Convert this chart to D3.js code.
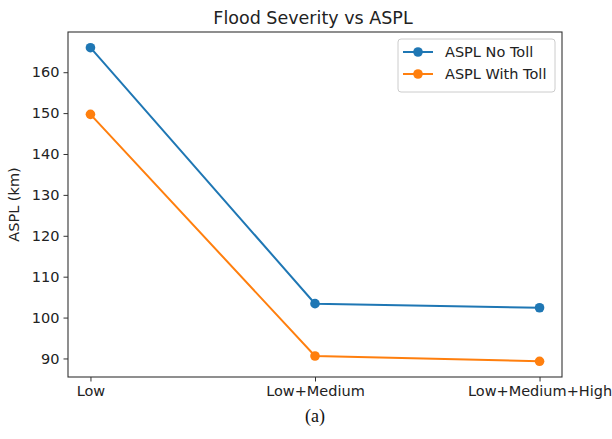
<!DOCTYPE html>
<html><head><meta charset="utf-8">
<script src="https://cdn.jsdelivr.net/npm/d3@7"></script>
<style>
body{margin:0;background:#fff;}
svg{display:block;}
</style></head>
<body><svg id="chart" width="612" height="439"></svg>
<script>
const categories = ["Low", "Low+Medium", "Low+Medium+High"];
const noToll = [166.0, 103.4, 102.4];
const withToll = [149.7, 90.6, 89.3];
const yTicks = [90, 100, 110, 120, 130, 140, 150, 160];
const seriesNames = ["ASPL No Toll", "ASPL With Toll"];
const colors = ["#1f77b4", "#ff7f0e"];

const FONT = "DejaVu Sans, sans-serif";
const FS = 14.5;
const svg = d3.select("#chart");
const L = 68, R = 562, T = 32, B = 377;

const x = d3.scaleLinear().domain([-0.1, 2.1]).range([L, R]);
const all = noToll.concat(withToll);
const mn = d3.min(all), mx = d3.max(all), pad = (mx - mn) * 0.05;
const y = d3.scaleLinear().domain([mn - pad, mx + pad]).range([B, T]);

const axisColor = "#333";
svg.append("rect").attr("x", L).attr("y", T).attr("width", R - L).attr("height", B - T)
  .attr("fill", "none").attr("stroke", axisColor).attr("stroke-width", 1.1);

const xAxis = d3.axisBottom(x).tickValues([0, 1, 2]).tickFormat(i => categories[i]).tickSize(4.5).tickPadding(4);
const gx = svg.append("g").attr("transform", `translate(0,${B})`).call(xAxis)
  .attr("font-family", FONT).attr("font-size", FS);
gx.select(".domain").remove();
gx.selectAll("line").attr("stroke", axisColor);
gx.selectAll("text").attr("fill", "#222");

const yAxis = d3.axisLeft(y).tickValues(yTicks).tickSize(4.5).tickPadding(4);
const gy = svg.append("g").attr("transform", `translate(${L},0)`).call(yAxis)
  .attr("font-family", FONT).attr("font-size", FS);
gy.select(".domain").remove();
gy.selectAll("line").attr("stroke", axisColor);
gy.selectAll("text").attr("fill", "#222");

svg.append("text").attr("transform", `translate(19,${(T + B) / 2}) rotate(-90)`)
  .attr("text-anchor", "middle").attr("font-family", FONT).attr("font-size", FS).attr("fill", "#222").text("ASPL (km)");

svg.append("text").attr("x", (L + R) / 2 - 2).attr("y", 24).attr("text-anchor", "middle")
  .attr("font-family", FONT).attr("font-size", 17.5).attr("fill", "#222").text("Flood Severity vs ASPL");

const line = d3.line().x((d, i) => x(i)).y(d => y(d));
[noToll, withToll].forEach((s, k) => {
  svg.append("path").datum(s).attr("d", line).attr("fill", "none")
    .attr("stroke", colors[k]).attr("stroke-width", 2);
  svg.selectAll(null).data(s).enter().append("circle")
    .attr("cx", (d, i) => x(i)).attr("cy", d => y(d)).attr("r", 4.8).attr("fill", colors[k]);
});

const lg = svg.append("g");
lg.append("rect").attr("x", 398).attr("y", 39).attr("width", 157).attr("height", 53).attr("rx", 3)
  .attr("fill", "#fff").attr("fill-opacity", 0.8).attr("stroke", "#ccc");
seriesNames.forEach((n, k) => {
  const yy = 52 + k * 22;
  lg.append("line").attr("x1", 403).attr("x2", 433).attr("y1", yy).attr("y2", yy)
    .attr("stroke", colors[k]).attr("stroke-width", 2);
  lg.append("circle").attr("cx", 418).attr("cy", yy).attr("r", 4.8).attr("fill", colors[k]);
  lg.append("text").attr("x", 445).attr("y", yy + 5).attr("font-family", FONT).attr("font-size", FS)
    .attr("fill", "#222").text(n);
});

svg.append("text").attr("x", 315).attr("y", 422).attr("text-anchor", "middle")
  .attr("font-family", "Liberation Serif, serif").attr("font-size", 18).attr("fill", "#111").text("(a)");
</script></body></html>
